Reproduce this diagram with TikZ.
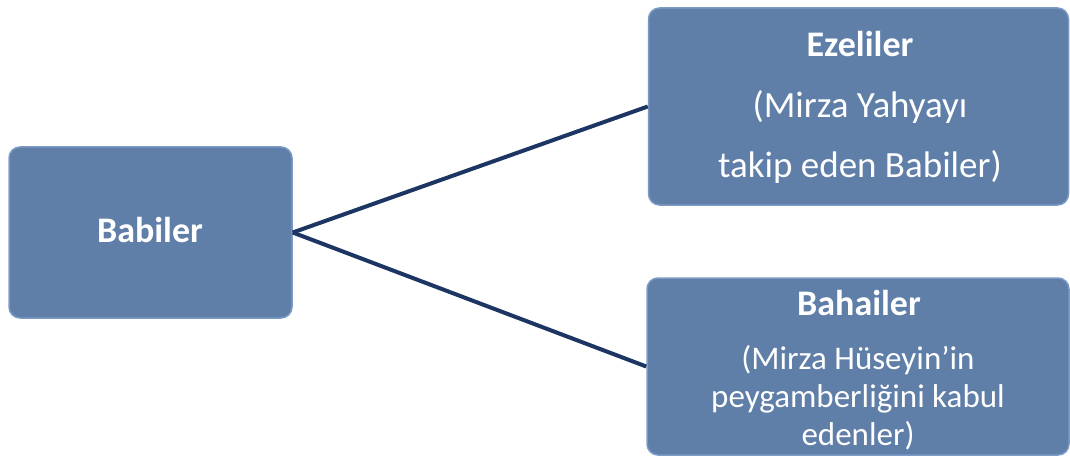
\documentclass[tikz,border=0pt]{standalone}
\usepackage{fontspec}
\setmainfont{Carlito}
\definecolor{boxfill}{HTML}{5F7EA8}
\definecolor{boxedge}{HTML}{7C9AC6}
\definecolor{linecol}{HTML}{1C3562}
\tikzset{
  boxnode/.style={draw=boxedge, line width=1.5pt, fill=boxfill, rounded corners=11pt, inner sep=0pt},
  title/.style={text=white, anchor=base, font=\fontsize{36}{43}\selectfont\bfseries, inner sep=0pt},
  bodybig/.style={text=white, anchor=base, font=\fontsize{37}{44}\selectfont, inner sep=0pt},
  bodysmall/.style={text=white, anchor=base, font=\fontsize{33}{40}\selectfont, inner sep=0pt},
  conn/.style={draw=linecol, line width=4pt}
}
\begin{document}
\begin{tikzpicture}[x=1pt,y=-1pt]
\useasboundingbox (0,0) rectangle (1070,457);
% boxes
\node[boxnode, minimum width=283pt, minimum height=171pt] (babiler) at (150.5,232.5) {};
\node[boxnode, minimum width=420pt, minimum height=197pt] (ezeliler) at (858.5,106.5) {};
\node[boxnode, minimum width=422pt, minimum height=177pt] (bahailer) at (858,366.5) {};
% connectors
\draw[conn] (babiler.east) -- (ezeliler.west);
\draw[conn] (babiler.east) -- (bahailer.west);
% texts
\node[title] (tbab) at (150,242) {Babiler};
\node[title] (tez) at (860,57) {Ezeliler};
\node[bodybig] (tez2) at (860,118) {(Mirza Yahyayı};
\node[bodybig] (tez3) at (860,178) {takip eden Babiler)};
\node[title] (tbah) at (859,315) {Bahailer};
\node[bodysmall] (tbah2) at (858,369) {(Mirza Hüseyin’in};
\node[bodysmall] (tbah3) at (858,407) {peygamberliğini kabul};
\node[bodysmall] (tbah4) at (858,445) {edenler)};
\end{tikzpicture}
\end{document}
